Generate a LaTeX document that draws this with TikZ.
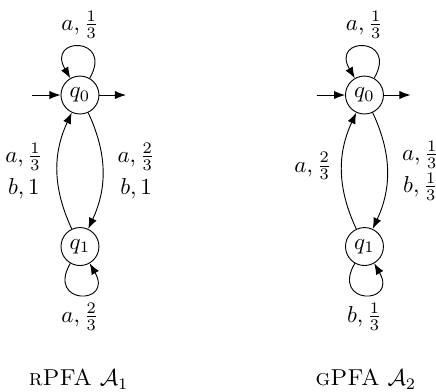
\documentclass[tikz,border=0pt]{standalone}
\usepackage{amsmath,amssymb}
\usetikzlibrary{arrows.meta,positioning}

\begin{document}
\begin{tikzpicture}[
  >={Latex},
  pstate/.style={circle, draw, minimum size=16.5pt, inner sep=0.5pt},
  lbl/.style={align=center},
  selfloop/.style={looseness=6.4},
]
  \useasboundingbox (-1.222,1.452) rectangle (5.440,-4.523);

  % rPFA
  \node[pstate] (rq0) at (0,0) {$q_0$};
  \node[pstate] (rq1) at (0,-2.315) {$q_1$};
  \coordinate (rin) at (-0.733,0);
  \coordinate (rout) at (0.703,0);
  \node (rcap) at (-0.02,-4.34) {\textsc{rPFA} $\mathcal{A}_1$};

  \draw[->] (rin) -- (rq0);
  \draw[->] (rq0) -- (rout);
  \draw[->] (rq0) to[selfloop, out=60, in=120] node[above] {$a, \frac{1}{3}$} (rq0);
  \draw[->] (rq0) to[bend left=25] node[lbl, right=3pt] {$a, \frac{2}{3}$\\[2pt]$b, 1$} (rq1);
  \draw[->] (rq1) to[bend left=25] node[lbl, left=3pt] {$a, \frac{1}{3}$\\[2pt]$b, 1$} (rq0);
  \draw[->] (rq1) to[selfloop, out=240, in=300] node[below] {$a, \frac{2}{3}$} (rq1);

  % gPFA
  \node[pstate] (gq0) at (4.347,0) {$q_0$};
  \node[pstate] (gq1) at (4.347,-2.315) {$q_1$};
  \coordinate (gin) at (3.614,0);
  \coordinate (gout) at (5.050,0);
  \node (gcap) at (4.37,-4.34) {\textsc{gPFA} $\mathcal{A}_2$};

  \draw[->] (gin) -- (gq0);
  \draw[->] (gq0) -- (gout);
  \draw[->] (gq0) to[selfloop, out=60, in=120] node[above] {$a, \frac{1}{3}$} (gq0);
  \draw[->] (gq0) to[bend left=25] node[lbl, right=3pt] {$a, \frac{1}{3}$\\[2pt]$b, \frac{1}{3}$} (gq1);
  \draw[->] (gq1) to[bend left=25] node[lbl, left=1pt, pos=0.54] {$a, \frac{2}{3}$} (gq0);
  \draw[->] (gq1) to[selfloop, out=240, in=300] node[below] {$b, \frac{1}{3}$} (gq1);
\end{tikzpicture}
\end{document}
